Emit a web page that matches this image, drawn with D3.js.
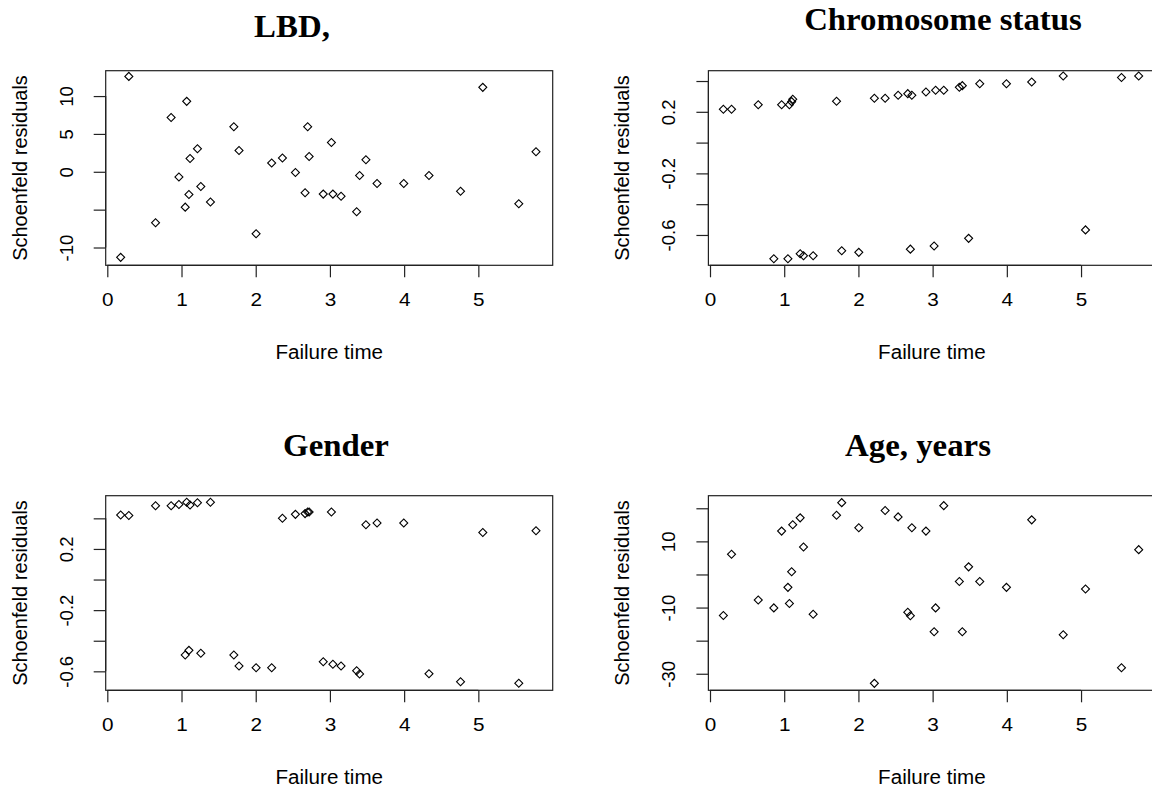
<!DOCTYPE html>
<html>
<head>
<meta charset="utf-8">
<script src="https://cdn.jsdelivr.net/npm/d3@7"></script>
<style>
  html, body { margin: 0; padding: 0; background: #fff; }
  svg { display: block; }
  .axis-text { font-family: "Liberation Sans", Arial, sans-serif; fill: #000; }
  .title { font-family: "Liberation Serif", "Times New Roman", serif; font-weight: bold; fill: #000; }
</style>
</head>
<body>
<svg id="chart" width="1152" height="794"></svg>
<script>
// ---- Data ----
const failureTimes = [0.18, 0.29, 0.65, 0.86, 0.965, 1.05, 1.07, 1.10, 1.115, 1.215, 1.26, 1.39,
  1.705, 1.775, 2.005, 2.215, 2.36, 2.535, 2.665, 2.70, 2.72, 2.91, 3.02, 3.04, 3.15, 3.36, 3.40,
  3.485, 3.635, 3.995, 4.335, 4.76, 5.06, 5.545, 5.777];

const lbdResiduals = [-11.3, 12.6, -6.74, 7.18, -0.70, -4.67, 9.3, -3.0, 1.76, 3.04, -1.94, -4.0,
  5.95, 2.82, -8.19, 1.15, 1.81, -0.09, -2.78, 5.95, 2.03, -2.95, 3.88, -2.95, -3.22, -5.29, -0.48,
  1.59, -1.54, -1.54, -0.48, -2.56, 11.15, -4.23, 2.64];

const chromosomeResiduals = [0.216, 0.216, 0.246, -0.755, 0.246, -0.755, 0.246, 0.266, 0.281, -0.722,
  -0.735, -0.735, 0.268, -0.702, -0.713, 0.288, 0.288, 0.307, 0.318, -0.692, 0.307, 0.329, -0.672,
  0.340, 0.340, 0.360, 0.370, -0.622, 0.382, 0.382, 0.393, 0.432, -0.567, 0.423, 0.432];

const genderResiduals = [0.422, 0.419, 0.482, 0.482, 0.491, -0.493, 0.505, -0.463, 0.487, 0.502,
  -0.482, 0.505, -0.493, -0.565, -0.576, -0.576, 0.400, 0.426, 0.431, 0.441, 0.441, -0.537, 0.441,
  -0.554, -0.565, -0.596, -0.618, 0.358, 0.369, 0.369, -0.616, -0.668, 0.308, -0.678, 0.319];

const ageResiduals = [-12.4, 6.1, -7.7, -10.1, 13.1, -3.9, -8.8, 0.85, 15.0, 17.1, 8.3, -12.0,
  17.9, 21.7, 14.1, -32.9, 19.3, 17.4, -11.4, -12.5, 14.1, 13.1, -17.3, -10.1, 20.8, -2.1, -17.3,
  2.3, -2.1, -3.9, 16.5, -18.2, -4.4, -28.2, 7.5];

const titles = ["LBD,", "Chromosome status", "Gender", "Age, years"];
const xTicks = [0, 1, 2, 3, 4, 5];
const lbdTicks = [-10, -5, 0, 5, 10];
const lbdTickLabels = ["-10", "", "0", "5", "10"];
const propTicks = [-0.6, -0.4, -0.2, 0, 0.2, 0.4];
const propTickLabels = ["-0.6", "", "-0.2", "", "0.2", ""];
const ageTicks = [-30, -20, -10, 0, 10, 20];
const ageTickLabels = ["-30", "", "-10", "", "10", ""];
const xLabel = "Failure time";
const yLabel = "Schoenfeld residuals";

// ---- Layout ----
const svg = d3.select("#chart");
const boxW = 447;
const panels = [
  { title: titles[0], values: lbdResiduals, ticks: lbdTicks, labels: lbdTickLabels,
    left: 105.7, top: 70.7, bottom: 265.3, yDom: [-12.35, 13.35], titleX: 292, titleY: 37 },
  { title: titles[1], values: chromosomeResiduals, ticks: propTicks, labels: propTickLabels,
    left: 708.4, top: 70.7, bottom: 265.3, yDom: [-0.797, 0.467], titleX: 943, titleY: 30 },
  { title: titles[2], values: genderResiduals, ticks: propTicks, labels: propTickLabels,
    left: 105.7, top: 495.7, bottom: 690.3, yDom: [-0.724, 0.548], titleX: 336, titleY: 456 },
  { title: titles[3], values: ageResiduals, ticks: ageTicks, labels: ageTickLabels,
    left: 708.4, top: 495.7, bottom: 690.3, yDom: [-35.0, 23.8], titleX: 918, titleY: 456 }
];

const tickLen = 12;
const fs = 18.5;       // tick label size
const fsLab = 20;      // axis title size
const hStretch = 1.12; // horizontal stretch seen in the reference tick text
const diamond = d3.symbol().type(d3.symbolSquare).size(32);

panels.forEach(p => {
  const g = svg.append("g");
  const x = d3.scaleLinear().domain([-0.0216, 6.002]).range([p.left, p.left + boxW]);
  const y = d3.scaleLinear().domain(p.yDom).range([p.bottom, p.top]);

  // Box
  g.append("rect")
    .attr("x", p.left).attr("y", p.top)
    .attr("width", boxW).attr("height", p.bottom - p.top)
    .attr("fill", "none").attr("stroke", "#222").attr("stroke-width", 1.2);

  // X axis
  const xAxis = d3.axisBottom(x).tickValues(xTicks).tickSize(tickLen).tickPadding(14)
    .tickFormat(d3.format("d"));
  const xg = g.append("g").attr("transform", `translate(0,${p.bottom})`).call(xAxis);
  xg.select(".domain").attr("d", `M${x(0)},0H${x(5)}`).attr("stroke", "#222").attr("stroke-width", 1.2);
  xg.selectAll(".tick line").attr("stroke", "#222").attr("stroke-width", 1.2);
  xg.selectAll(".tick text").attr("class", "axis-text").style("font-size", fs + "px")
    .attr("font-family", null)
    .attr("y", null).attr("dy", null)
    .attr("transform", `translate(0,${tickLen + 29}) scale(${hStretch},1)`);

  // Y axis
  const yAxis = d3.axisLeft(y).tickValues(p.ticks).tickSize(tickLen)
    .tickFormat((d, i) => p.labels[i]);
  const yg = g.append("g").attr("transform", `translate(${p.left},0)`).call(yAxis);
  yg.select(".domain").attr("d", `M0,${y(p.ticks[0])}V${y(p.ticks[p.ticks.length - 1])}`)
    .attr("stroke", "#222").attr("stroke-width", 1.2);
  yg.selectAll(".tick line").attr("stroke", "#222").attr("stroke-width", 1.2);
  yg.selectAll(".tick text")
    .attr("class", "axis-text").style("font-size", fs + "px").attr("font-family", null)
    .attr("x", null).attr("dy", null)
    .attr("text-anchor", "middle")
    .attr("transform", "translate(-33,0) rotate(-90)");

  // Axis titles
  g.append("text").attr("class", "axis-text")
    .attr("transform", `translate(${p.left + boxW / 2},${p.bottom + 94}) scale(1.03,1)`)
    .attr("text-anchor", "middle").style("font-size", fsLab + "px").text(xLabel);
  g.append("text").attr("class", "axis-text")
    .attr("transform", `translate(${p.left - 79},${(p.top + p.bottom) / 2}) rotate(-90)`)
    .attr("text-anchor", "middle").style("font-size", fsLab + "px").text(yLabel);

  // Title
  g.append("text").attr("class", "title")
    .attr("transform", `translate(${p.titleX},${p.titleY}) scale(1.06,1)`)
    .attr("text-anchor", "middle").style("font-size", "31px").text(p.title);

  // Points (open diamonds)
  g.append("g").selectAll("path")
    .data(failureTimes.map((t, i) => [t, p.values[i]]))
    .join("path")
    .attr("d", diamond)
    .attr("transform", d => `translate(${x(d[0])},${y(d[1])}) rotate(45)`)
    .attr("fill", "none").attr("stroke", "#000").attr("stroke-width", 1.1);
});
</script>
</body>
</html>
